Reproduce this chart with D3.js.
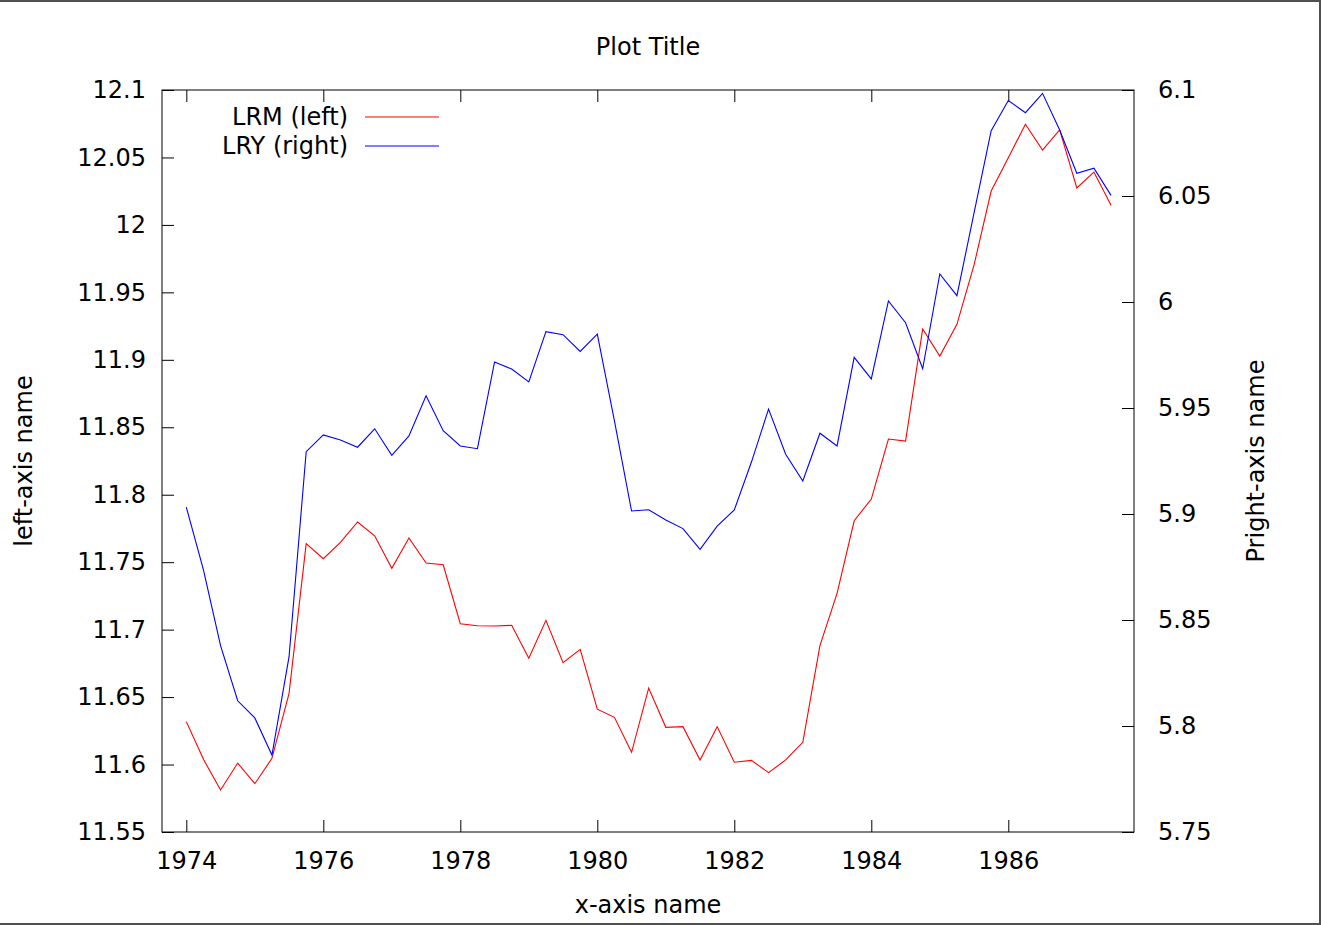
<!DOCTYPE html>
<html>
<head>
<meta charset="utf-8">
<script src="https://cdn.jsdelivr.net/npm/d3@7"></script>
<style>
  body { margin: 0; background: #fff; }
  svg { display: block; font-family: "DejaVu Sans", sans-serif; }
  .tick text { font-size: 24px; fill: #000; }
  .tick line { stroke: #000; }
</style>
</head>
<body>
<svg width="1321" height="925"></svg>
<script>
// Quarterly observations, 1974Q1 .. 1987Q3
const startYear = 1974;

const lrm = [
    11.6318, 11.6039, 11.5811, 11.6011, 11.5858, 11.6046, 11.6528, 11.7637,
    11.7526, 11.7647, 11.7798, 11.7696, 11.7455, 11.7679, 11.7494, 11.7481,
    11.7044, 11.7029, 11.7027, 11.7032, 11.6788, 11.7069, 11.6755, 11.6854,
    11.6410, 11.6350, 11.6091, 11.6567, 11.6276, 11.6281, 11.6034, 11.6281,
    11.6017, 11.6031, 11.5940, 11.6034, 11.6165, 11.6881, 11.7269, 11.7807,
    11.7968, 11.8413, 11.8398, 11.9228, 11.9028, 11.9263, 11.9703, 12.0251,
    12.0498, 12.0746, 12.0555, 12.0704, 12.0274, 12.0392, 12.0145
];

const lry = [
    5.9032, 5.8736, 5.8379, 5.8119, 5.8038, 5.7863, 5.8327, 5.9294,
    5.9373, 5.9349, 5.9315, 5.9402, 5.9277, 5.9368, 5.9558, 5.9393,
    5.9321, 5.9308, 5.9717, 5.9684, 5.9623, 5.9860, 5.9846, 5.9767,
    5.9848, 5.9439, 5.9014, 5.9020, 5.8972, 5.8931, 5.8833, 5.8943,
    5.9019, 5.9245, 5.9495, 5.9282, 5.9156, 5.9381, 5.9321, 5.9739,
    5.9637, 6.0005, 5.9902, 5.9685, 6.0132, 6.0030, 6.0420, 6.0808,
    6.0950, 6.0893, 6.0984, 6.0811, 6.0607, 6.0631, 6.0503
];

const xTicks = [1974, 1976, 1978, 1980, 1982, 1984, 1986];
const yLeftTicks = [11.55, 11.6, 11.65, 11.7, 11.75, 11.8, 11.85, 11.9, 11.95, 12, 12.05, 12.1];
const yRightTicks = [5.75, 5.8, 5.85, 5.9, 5.95, 6, 6.05, 6.1];

const series = [
    { name: "LRM (left)", values: lrm, color: "#ff0000", axis: "left" },
    { name: "LRY (right)", values: lry, color: "#0000ff", axis: "right" }
];

const svg = d3.select("svg");
const W = +svg.attr("width");
const H = +svg.attr("height");

// plot box
const pLeft = 162, pRight = 1134, pTop = 90, pBottom = 832;

const x = d3.scaleLinear().domain([1973.645, 1987.835]).range([pLeft, pRight]);
const yL = d3.scaleLinear().domain([11.55, 12.1]).range([pBottom, pTop]);
const yR = d3.scaleLinear().domain([5.75, 6.1]).range([pBottom, pTop]);

const fmt = d => String(d);

// window edge
svg.append("rect").attr("x", 0).attr("y", 0).attr("width", W).attr("height", 2).attr("fill", "#505050");
svg.append("rect").attr("x", W - 2).attr("y", 0).attr("width", 2).attr("height", H).attr("fill", "#505050");
svg.append("rect").attr("x", 0).attr("y", H - 2).attr("width", W).attr("height", 2).attr("fill", "#505050");

// axes, ticks pointing inwards
svg.append("g")
    .attr("transform", `translate(0,${pBottom})`)
    .call(d3.axisBottom(x).tickValues(xTicks).tickSize(-12).tickPadding(20).tickFormat(fmt))
    .call(g => g.select(".domain").remove());

svg.append("g")
    .attr("transform", `translate(0,${pTop})`)
    .call(d3.axisTop(x).tickValues(xTicks).tickSize(-12).tickFormat(""))
    .call(g => g.select(".domain").remove());

svg.append("g")
    .attr("transform", `translate(${pLeft},0)`)
    .call(d3.axisLeft(yL).tickValues(yLeftTicks).tickSize(-12).tickPadding(16).tickFormat(fmt))
    .call(g => g.select(".domain").remove());

svg.append("g")
    .attr("transform", `translate(${pRight},0)`)
    .call(d3.axisRight(yR).tickValues(yRightTicks).tickSize(-12).tickPadding(24).tickFormat(fmt))
    .call(g => g.select(".domain").remove());

svg.selectAll(".tick text").attr("font-family", "DejaVu Sans").attr("font-size", 24);

// frame
svg.append("rect")
    .attr("x", pLeft).attr("y", pTop)
    .attr("width", pRight - pLeft).attr("height", pBottom - pTop)
    .attr("fill", "none").attr("stroke", "#000").attr("stroke-width", 1);

// lines
series.forEach(s => {
    const yScale = s.axis === "left" ? yL : yR;
    const line = d3.line()
        .x((d, i) => x(startYear + i * 0.25))
        .y(d => yScale(d));
    svg.append("path")
        .datum(s.values)
        .attr("fill", "none")
        .attr("stroke", s.color)
        .attr("stroke-width", 1.1)
        .attr("d", line);
});

// legend
const legend = svg.append("g");
series.forEach((s, i) => {
    const ly = 117 + i * 29;
    legend.append("text")
        .attr("x", 348).attr("y", ly + 8)
        .attr("text-anchor", "end")
        .attr("font-size", 24)
        .text(s.name);
    legend.append("line")
        .attr("x1", 365).attr("x2", 439)
        .attr("y1", ly).attr("y2", ly)
        .attr("stroke", s.color).attr("stroke-width", 1.1);
});

// titles
svg.append("text")
    .attr("x", (pLeft + pRight) / 2).attr("y", 55)
    .attr("text-anchor", "middle").attr("font-size", 24)
    .text("Plot Title");

svg.append("text")
    .attr("x", (pLeft + pRight) / 2).attr("y", 913)
    .attr("text-anchor", "middle").attr("font-size", 24)
    .text("x-axis name");

svg.append("text")
    .attr("transform", `translate(32,${(pTop + pBottom) / 2}) rotate(-90)`)
    .attr("text-anchor", "middle").attr("font-size", 24)
    .text("left-axis name");

svg.append("text")
    .attr("transform", `translate(1264,${(pTop + pBottom) / 2}) rotate(-90)`)
    .attr("text-anchor", "middle").attr("font-size", 24)
    .text("Pright-axis name");
</script>
</body>
</html>
